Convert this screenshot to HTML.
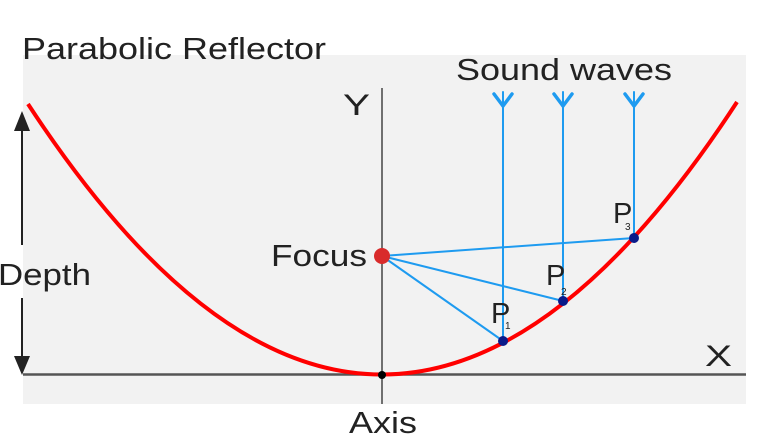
<!DOCTYPE html>
<html><head><style>
html,body{margin:0;padding:0;background:#fff;}
svg{display:block;}
text{font-family:"Liberation Sans",sans-serif;fill:#222;}
</style></head><body>
<svg width="771" height="445" viewBox="0 0 771 445" xmlns="http://www.w3.org/2000/svg">
<rect x="23" y="55" width="723" height="349" fill="#f2f2f2"/>
<text x="22" y="59" font-size="31" textLength="304" lengthAdjust="spacingAndGlyphs">Parabolic Reflector</text>
<text x="456" y="80" font-size="31" textLength="216" lengthAdjust="spacingAndGlyphs">Sound waves</text>
<!-- axes -->
<line x1="23" y1="374.5" x2="746" y2="374.5" stroke="#555" stroke-width="2.5"/>
<line x1="382" y1="88" x2="382" y2="404" stroke="#444" stroke-width="1.5"/>
<text x="343" y="115" font-size="30" textLength="27" lengthAdjust="spacingAndGlyphs">Y</text>
<text x="705" y="366" font-size="30" textLength="27" lengthAdjust="spacingAndGlyphs">X</text>
<text x="349" y="433" font-size="31" textLength="68" lengthAdjust="spacingAndGlyphs">Axis</text>
<!-- depth arrow -->
<line x1="22" y1="118" x2="22" y2="245" stroke="#222" stroke-width="2"/>
<line x1="22" y1="298" x2="22" y2="364" stroke="#222" stroke-width="2"/>
<polygon points="14,131 22,111 30,131" fill="#222"/>
<polygon points="14,356 22,375 30,356" fill="#222"/>
<text x="-2" y="285" font-size="31" textLength="93" lengthAdjust="spacingAndGlyphs">Depth</text>
<!-- blue rays -->
<g stroke="#1e9bf0" stroke-width="2" fill="none" stroke-linecap="round">
<line x1="503" y1="92" x2="503" y2="341"/>
<line x1="563" y1="92" x2="563" y2="301"/>
<line x1="634" y1="92" x2="634" y2="238"/>
<line x1="382" y1="256" x2="503" y2="341"/>
<line x1="382" y1="256" x2="563" y2="301"/>
<line x1="382" y1="256" x2="634" y2="238"/>
<g stroke-width="3.5">
<polyline points="494,94 503,106 512,94"/>
<polyline points="554,94 563,106 572,94"/>
<polyline points="625,94 634,106 643,94"/>
</g>
</g>
<!-- parabola -->
<path d="M28,104 Q382.5,646 737,102" stroke="#f00" stroke-width="4" fill="none"/>
<circle cx="382" cy="256" r="8" fill="#d92b2b"/>
<text x="271" y="266" font-size="31" textLength="96" lengthAdjust="spacingAndGlyphs">Focus</text>
<circle cx="382" cy="375" r="4" fill="#000"/>
<circle cx="503" cy="341" r="5" fill="#0a1a8a"/>
<circle cx="563" cy="301" r="5" fill="#0a1a8a"/>
<circle cx="634" cy="238" r="5" fill="#0a1a8a"/>
<text x="491" y="323" font-size="29">P</text><text x="505" y="329" font-size="10">1</text>
<text x="546" y="285" font-size="29">P</text><text x="561" y="295" font-size="10">2</text>
<text x="613" y="223" font-size="29">P</text><text x="625" y="230" font-size="10">3</text>
</svg>
</body></html>
